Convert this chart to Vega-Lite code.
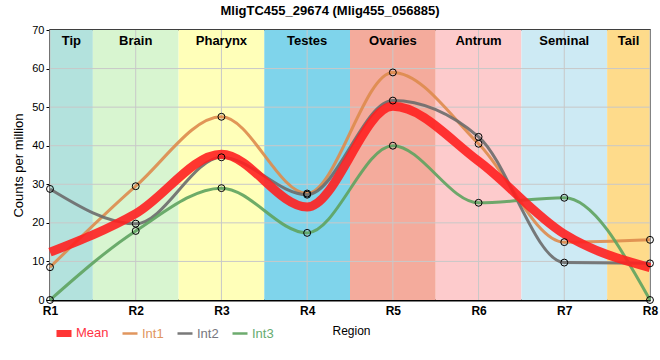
{
  "$schema": "https://vega.github.io/schema/vega-lite/v6.json",
  "width": 600,
  "height": 270,
  "autosize": {"type": "none"},
  "padding": {"left": 50, "top": 30, "right": 10, "bottom": 60},
  "title": {"text": "MligTC455_29674 (Mlig455_056885)", "fontSize": 13, "font": "Liberation Sans", "fontWeight": "bold", "offset": 6, "dx": -20, "color": "#000"},
  "config": {
    "view": {"stroke": "#000", "strokeWidth": 1.5},
    "font": "Liberation Sans",
    "axisY": {"values": [0, 10, 20, 30, 40, 50, 60, 70], "labelOverlap": false, "grid": false, "tickSize": 4, "tickColor": "#000", "labelFontSize": 11, "labelColor": "#000", "labelPadding": 2, "domainColor": "#000", "domainWidth": 2, "titleFontWeight": "normal", "titleFontSize": 13, "titleColor": "#000", "titlePadding": 6},
    "axisX": {"labelOverlap": false, "labelFontWeight": "bold", "labelFontSize": 12, "labelColor": "#000", "labelFlush": false, "grid": false, "ticks": false, "labelPadding": 5, "domainColor": "#000", "domainWidth": 2, "titleFontWeight": "normal", "titleFontSize": 12, "titleColor": "#000", "titleX": 282, "titleY": 30, "titleAlign": "left", "titleBaseline": "middle"}
  },
  "datasets": {
    "bands": [
      {"region": "Tip", "start": 1, "end": 1.5, "mid": 1.25},
      {"region": "Brain", "start": 1.5, "end": 2.5, "mid": 2},
      {"region": "Pharynx", "start": 2.5, "end": 3.5, "mid": 3},
      {"region": "Testes", "start": 3.5, "end": 4.5, "mid": 4},
      {"region": "Ovaries", "start": 4.5, "end": 5.5, "mid": 5},
      {"region": "Antrum", "start": 5.5, "end": 6.5, "mid": 6},
      {"region": "Seminal", "start": 6.5, "end": 7.5, "mid": 7},
      {"region": "Tail", "start": 7.5, "end": 8, "mid": 7.75}
    ],
    "gridx": [{"v": 1}, {"v": 2}, {"v": 3}, {"v": 4}, {"v": 5}, {"v": 6}, {"v": 7}, {"v": 8}],
    "gridy": [{"v": 10}, {"v": 20}, {"v": 30}, {"v": 40}, {"v": 50}, {"v": 60}],
    "series": [
      {"series": "Int1", "x": 1, "value": 8.5},
      {"series": "Int1", "x": 2, "value": 29.5},
      {"series": "Int1", "x": 3, "value": 47.5},
      {"series": "Int1", "x": 4, "value": 27.6},
      {"series": "Int1", "x": 5, "value": 59},
      {"series": "Int1", "x": 6, "value": 40.5},
      {"series": "Int1", "x": 7, "value": 15},
      {"series": "Int1", "x": 8, "value": 15.6},
      {"series": "Int2", "x": 1, "value": 28.8},
      {"series": "Int2", "x": 2, "value": 19.8},
      {"series": "Int2", "x": 3, "value": 37},
      {"series": "Int2", "x": 4, "value": 27.3},
      {"series": "Int2", "x": 5, "value": 51.7},
      {"series": "Int2", "x": 6, "value": 42.3},
      {"series": "Int2", "x": 7, "value": 9.7},
      {"series": "Int2", "x": 8, "value": 9.5},
      {"series": "Int3", "x": 1, "value": 0},
      {"series": "Int3", "x": 2, "value": 17.9},
      {"series": "Int3", "x": 3, "value": 29},
      {"series": "Int3", "x": 4, "value": 17.4},
      {"series": "Int3", "x": 5, "value": 40},
      {"series": "Int3", "x": 6, "value": 25.2},
      {"series": "Int3", "x": 7, "value": 26.5},
      {"series": "Int3", "x": 8, "value": 0},
      {"series": "Mean", "x": 1, "value": 12.4},
      {"series": "Mean", "x": 2, "value": 22.4},
      {"series": "Mean", "x": 3, "value": 37.8},
      {"series": "Mean", "x": 4, "value": 24.1},
      {"series": "Mean", "x": 5, "value": 50.2},
      {"series": "Mean", "x": 6, "value": 36},
      {"series": "Mean", "x": 7, "value": 17.1},
      {"series": "Mean", "x": 8, "value": 8.4}
    ]
  },
  "layer": [
    {
      "data": {"name": "bands"},
      "mark": {"type": "rect"},
      "encoding": {
        "x": {"field": "start", "type": "quantitative", "scale": {"domain": [1, 8], "nice": false, "zero": false},
          "axis": {"values": [1, 2, 3, 4, 5, 6, 7, 8], "labelExpr": "'R' + datum.value", "title": "Region"}},
        "x2": {"field": "end"},
        "y": {"datum": 0, "type": "quantitative", "scale": {"domain": [0, 70], "nice": false},
          "axis": {"title": "Counts per million"}},
        "y2": {"datum": 70},
        "fill": {"field": "region", "type": "nominal", "legend": null,
          "scale": {"domain": ["Tip", "Brain", "Pharynx", "Testes", "Ovaries", "Antrum", "Seminal", "Tail"],
            "range": ["#b3e2dd", "#d8f5d0", "#ffffb9", "#7fd4eb", "#f4ab9c", "#fdcbcc", "#cdeaf4", "#fedb8b"]}}
      }
    },
    {
      "data": {"name": "gridx"},
      "mark": {"type": "rule", "color": "#c8c8c8", "strokeWidth": 1},
      "encoding": {"x": {"field": "v", "type": "quantitative"}}
    },
    {
      "data": {"name": "gridy"},
      "mark": {"type": "rule", "color": "#c8c8c8", "strokeWidth": 1},
      "encoding": {"y": {"field": "v", "type": "quantitative"}}
    },
    {
      "data": {"name": "bands"},
      "mark": {"type": "text", "fontWeight": "bold", "fontSize": 13, "baseline": "middle", "align": "center", "color": "#000"},
      "encoding": {
        "x": {"field": "mid", "type": "quantitative"},
        "y": {"datum": 67.2, "type": "quantitative"},
        "text": {"field": "region"}
      }
    },
    {
      "data": {"name": "series"},
      "mark": {"type": "line", "interpolate": "monotone", "opacity": 0.9},
      "encoding": {
        "x": {"field": "x", "type": "quantitative"},
        "y": {"field": "value", "type": "quantitative"},
        "strokeWidth": {"condition": {"test": "datum.series === 'Mean'", "value": 9}, "value": 3},
        "color": {"field": "series", "type": "nominal",
          "scale": {"domain": ["Mean", "Int1", "Int2", "Int3"], "range": ["#ff2020", "#de8b4d", "#6b6b6b", "#5ea35f"]},
          "legend": {"orient": "none", "legendX": 5, "legendY": 294, "direction": "horizontal", "title": null, "symbolSize": 225, "labelFontSize": 13, "labelOffset": 3, "columnPadding": 8,
            "symbolType": {"expr": "datum.value === 'Mean' ? 'M-1,-0.3H1M-1,0H1M-1,0.3H1' : 'stroke'"},
            "labelColor": {"expr": "datum.value === 'Mean' ? '#ff3344' : datum.value === 'Int1' ? '#e0955f' : datum.value === 'Int2' ? '#76767e' : '#66ab70'"},
            "symbolStrokeWidth": 2.5,
            "symbolOpacity": 0.9}}
      }
    },
    {
      "data": {"name": "series"},
      "transform": [{"filter": "datum.series !== 'Mean'"}],
      "mark": {"type": "point", "filled": false, "stroke": "#000", "strokeWidth": 1, "size": 48, "opacity": 1},
      "encoding": {
        "x": {"field": "x", "type": "quantitative"},
        "y": {"field": "value", "type": "quantitative"}
      }
    }
  ]
}
